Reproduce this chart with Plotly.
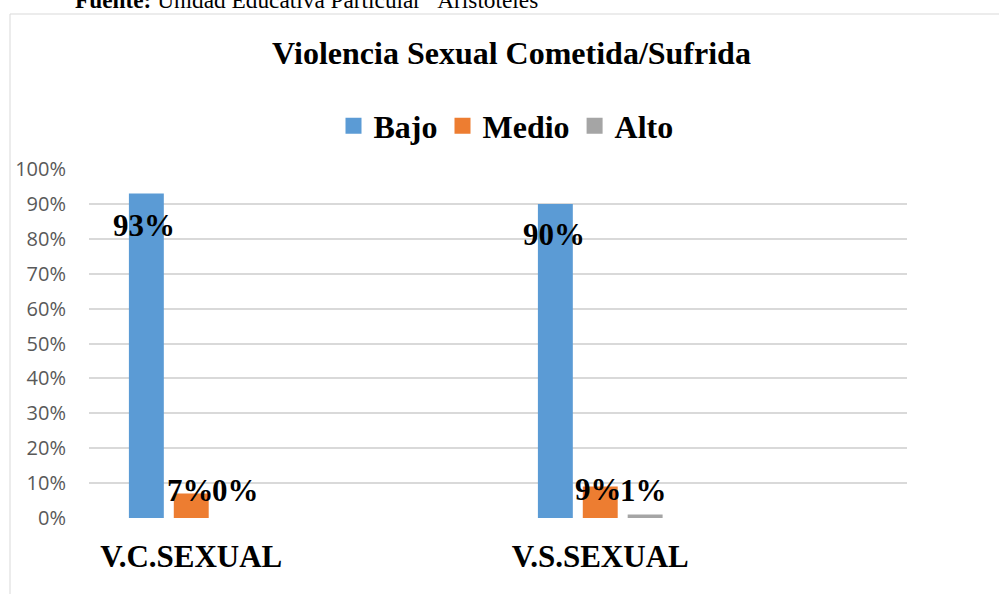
import plotly.graph_objects as go

# ---- data ----
categories = ["V.C.SEXUAL", "V.S.SEXUAL"]
axis_categories = ["V.C.SEXUAL", " ", "V.S.SEXUAL", "  "]   # two empty slots
series_names = ["Bajo", "Medio", "Alto"]
bajo = [0.93, 0.90]
medio = [0.07, 0.09]
alto = [0.00, 0.01]
y_ticks = [0, 0.1, 0.2, 0.3, 0.4, 0.5, 0.6, 0.7, 0.8, 0.9, 1.0]

# ---- style ----
colors = ["#5B9BD5", "#ED7D31", "#A5A5A5"]
BARGAP = 0.3415
BARGROUPGAP = 0.222
# label shifts (px) for each series / category
label_yshift = [[-32, -31], [3, -3], [28, 24]]
label_xshift = [[-2, -1], [-1, -2], [-1, -2]]

PL, PR, PT, PB = 89, 907, 169, 518
W, H = 999, 594


def py(pix):
    return (PB - pix) / (PB - PT)


def px(pix):
    return (pix - PL) / (PR - PL)


serif_bold = dict(family="Liberation Serif", color="black", weight="bold")

fig = go.Figure()
all_vals = [bajo, medio, alto]
for name, vals, col in zip(series_names, all_vals, colors):
    fig.add_trace(go.Bar(x=categories, y=vals, name=name, showlegend=False,
                         legendgroup=name,
                         marker=dict(color=col, line=dict(width=0))))
# legend entries (square swatches like the original)
for name, col in zip(series_names, colors):
    fig.add_trace(go.Scatter(x=[None], y=[None], mode="markers", name=name,
                             legendgroup=name,
                             marker=dict(symbol="square", size=16, color=col)))

slot = (1 - BARGAP) / 3
for i, vals in enumerate(all_vals):
    for j, v in enumerate(vals):
        idx = axis_categories.index(categories[j])
        fig.add_annotation(x=idx + (i - 1) * slot, y=v,
                           xref="x", yref="y", text=f"{round(v*100)}%",
                           showarrow=False, xanchor="center", yanchor="middle",
                           yshift=label_yshift[i][j], xshift=label_xshift[i][j],
                           font=dict(size=31, **serif_bold))

# source text at top (partially cut off)
fig.add_annotation(x=px(73), y=py(15), xref="paper", yref="paper",
                   xanchor="left", yanchor="bottom", showarrow=False,
                   text="<b>Fuente:</b> Unidad Educativa Particular \u201cAristóteles\u201d",
                   font=dict(family="Liberation Serif", size=23.3, color="black"))

# chart frame
fig.add_shape(type="rect", xref="paper", yref="paper",
              x0=px(10), x1=px(1010), y0=py(610), y1=py(14),
              line=dict(color="#D9D9D9", width=1), fillcolor="rgba(0,0,0,0)",
              layer="below")

fig.update_layout(
    width=W, height=H,
    margin=dict(l=PL, r=W - PR, t=PT, b=H - PB, pad=0),
    paper_bgcolor="white", plot_bgcolor="white",
    barmode="group", bargap=BARGAP, bargroupgap=BARGROUPGAP,
    title=dict(text="Violencia Sexual Cometida/Sufrida",
               x=511.5 / W, xref="container", xanchor="center",
               y=1 - 53 / H, yref="container", yanchor="middle",
               font=dict(size=32, **serif_bold)),
    legend=dict(orientation="h", x=px(506), xanchor="center",
                y=py(126), yanchor="middle",
                font=dict(size=32, **serif_bold),
                itemsizing="trace",
                bgcolor="rgba(0,0,0,0)"),
    showlegend=True,
)

fig.update_xaxes(type="category", categoryorder="array",
                 categoryarray=axis_categories, range=[-0.5, 3.5],
                 tickvals=categories, ticktext=categories,
                 showgrid=False, zeroline=False, showline=False,
                 ticks="", ticklabelstandoff=17,
                 tickfont=dict(size=31, **serif_bold))
fig.update_yaxes(range=[0, 1], tickvals=y_ticks, tickformat=".0%",
                 showgrid=True, gridcolor="#D9D9D9", gridwidth=1.5,
                 zeroline=False, showline=False, ticks="",
                 ticklabelstandoff=22,
                 tickfont=dict(family="Open Sans", size=20, color="#595959"))

fig.write_html("out.html", config={"displayModeBar": False},
               post_script="document.body.style.margin='0';")
